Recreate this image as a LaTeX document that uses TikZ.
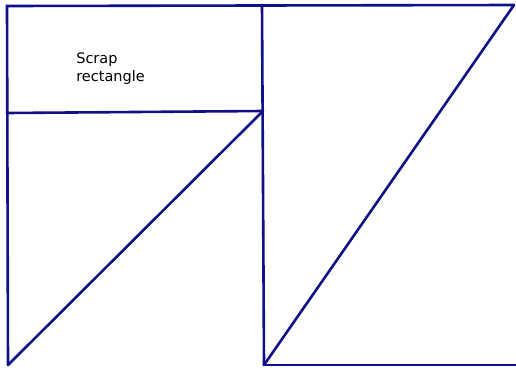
\documentclass[tikz,border=0pt]{standalone}
\usepackage{fontspec}
\setsansfont{DejaVu Sans}
\usepackage{xcolor}
\usetikzlibrary{positioning}

\begin{document}
\begin{tikzpicture}[x=1pt, y=-1pt, line width=2.6pt, line cap=round]
    % Màu đường viền
    \definecolor{navyline}{RGB}{16, 16, 136}
    \useasboundingbox (0,0) rectangle (516,367);

    % Các điểm góc
    \coordinate (TL) at (7,6);
    \coordinate (TM) at (262,5);
    \coordinate (TR) at (514,5);
    \coordinate (ML) at (7,113);
    \coordinate (MM) at (263,111);
    \coordinate (BL) at (8,365);
    \coordinate (BM) at (264,365);
    \coordinate (BR) at (516,365);

    % 1. Cạnh trên, cạnh trái, cạnh dưới
    \draw[navyline] (TR) -- (TL) -- (BL);
    \draw[navyline] (BM) -- (BR);

    % 2. Đường chia dọc và ngang
    \draw[navyline] (TM) -- (BM);
    \draw[navyline] (ML) -- (MM);

    % 3. Hai đường chéo
    \draw[navyline] (BL) -- (MM);
    \draw[navyline] (BM) -- (TR);

    % 4. Nhãn
    \node[anchor=north west, inner sep=0pt, align=left,
          font=\sffamily\fontsize{14.5}{18}\selectfont] (scrap) at (75,51)
        {Scrap\\rectangle};
\end{tikzpicture}
\end{document}
